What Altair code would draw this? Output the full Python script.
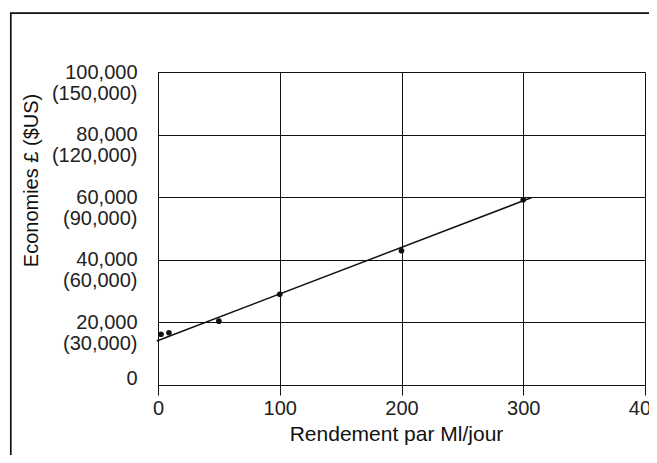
import altair as alt
import pandas as pd

# Data
rendement = [2.5, 9, 50, 100, 200, 300]
economies = [16200, 16700, 20400, 29000, 42900, 59200]

fit_x = [-1, 307]
fit_y = [14050, 59900]

y_ticks = [0, 20000, 40000, 60000, 80000, 100000]
x_ticks = [0, 100, 200, 300, 400]

pts = pd.DataFrame({"x": rendement, "y": economies})
fit = pd.DataFrame({"x": fit_x, "y": fit_y})

FONT = "Liberation Sans"

x_scale = alt.Scale(domain=[0, 400], nice=False)
y_scale = alt.Scale(domain=[0, 100000], nice=False)

x_axis = alt.Axis(
    values=x_ticks,
    title="Rendement par Ml/jour",
    grid=True,
    gridColor="#111",
    gridWidth=1,
    domainColor="#111",
    tickColor="#111",
    tickSize=10,
    labelFontSize=20,
    labelFont=FONT,
    labelColor="#222",
    labelPadding=3,
    labelFlush=False,
    labelOverlap=False,
    titleFontSize=21,
    titleFont=FONT,
    titleFontWeight="normal",
    titleColor="#111",
    titleX=238,
    titleY=55,
    titleAlign="center",
    titleBaseline="alphabetic",
)

y_axis = alt.Axis(
    values=y_ticks,
    title="Economies £ ($US)",
    grid=True,
    gridColor="#111",
    gridWidth=1,
    domainColor="#111",
    ticks=False,
    tickSize=0,
    labelExpr="datum.value == 0 ? '0' : [format(datum.value, ','), '(' + format(datum.value * 1.5, ',') + ')']",
    labelFontSize=20,
    labelFont=FONT,
    labelColor="#222",
    labelPadding=21,
    labelLineHeight=21,
    labelBaseline="middle",
    labelOffset={"condition": {"test": "datum.value == 0", "value": -7}, "value": 0},
    labelFlush=False,
    labelOverlap=False,
    titleFontSize=20,
    titleFont=FONT,
    titleFontWeight="normal",
    titleColor="#111",
    titleAngle=270,
    titleX=-121,
    titleY=108,
    titleAlign="center",
    titleBaseline="alphabetic",
)

frame = alt.Chart(alt.Data(values=[{"f": 1}])).mark_rect(
    filled=False, stroke="#111", strokeWidth=1.7
).encode(
    x=alt.value(-147.2), x2=alt.value(700),
    y=alt.value(-58.8), y2=alt.value(500),
)

line = alt.Chart(fit).mark_line(color="#111", strokeWidth=1.5).encode(
    x=alt.X("x:Q", scale=x_scale, axis=x_axis),
    y=alt.Y("y:Q", scale=y_scale, axis=y_axis),
)

points = alt.Chart(pts).mark_circle(color="#111", size=32, opacity=1).encode(
    x=alt.X("x:Q", scale=x_scale),
    y=alt.Y("y:Q", scale=y_scale),
)

chart = alt.layer(frame, line, points).properties(
    width=487,
    height=313,
    autosize=alt.AutoSizeParams(type="none"),
    padding={"left": 150, "top": 64, "right": 4, "bottom": 70},
).configure_view(
    stroke="#111", strokeWidth=1
).configure(background="white")

chart.save("out.html", embed_options={"renderer": "svg", "actions": False})
